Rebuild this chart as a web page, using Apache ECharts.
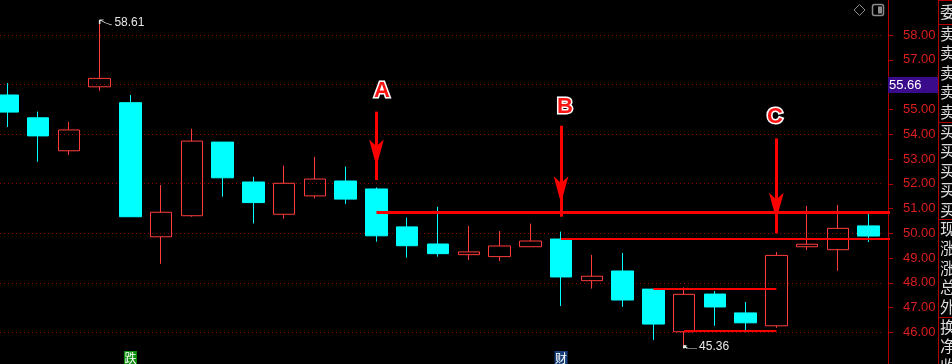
<!DOCTYPE html>
<html>
<head>
<meta charset="utf-8">
<script src="https://cdn.jsdelivr.net/npm/echarts@6/dist/echarts.min.js"></script>
<style>
html,body{margin:0;padding:0;background:#000;overflow:hidden;width:952px;height:364px;position:relative;}
#c{position:absolute;left:-8px;top:-15px;width:960px;height:398px;}
</style>
</head>
<body>
<div id="c"></div>
<script>
// ---------- data ----------
const categories = ['K01','K02','K03','K04','K05','K06','K07','K08','K09','K10',
  'K11','K12','K13','K14','K15','K16','K17','K18','K19','K20',
  'K21','K22','K23','K24','K25','K26','K27','K28','K29'];
const opens  = [55.58,54.66,53.33,55.91,55.27,49.86,50.71,53.68,52.07,50.77,
  51.51,52.11,51.79,50.26,49.57,49.14,49.06,49.46,49.77,48.09,
  48.48,47.75,46.03,47.55,46.79,46.27,49.46,49.34,50.30];
const closes = [54.89,53.93,54.17,56.25,50.67,50.85,53.72,52.24,51.24,52.02,
  52.19,51.38,49.90,49.50,49.18,49.25,49.49,49.69,48.24,48.27,
  47.31,46.34,47.54,47.03,46.39,49.11,49.56,50.20,49.89];
const lows   = [54.29,52.89,53.16,55.75,50.67,48.77,50.67,51.48,50.40,50.59,
  51.41,51.18,49.66,49.02,49.06,48.92,48.88,49.46,47.07,47.77,
  47.03,45.70,45.36,46.27,46.01,46.19,49.33,48.49,49.65];
const highs  = [56.06,54.91,54.50,58.61,55.58,51.95,54.22,53.68,52.28,52.73,
  53.09,52.69,51.85,50.63,51.07,50.30,50.09,50.39,50.07,49.13,
  49.21,47.75,47.82,47.67,47.23,49.25,51.10,51.14,50.79];
const yTickValues = [46,47,48,49,50,51,52,53,54,55,56,57,58];
const gridValues  = [46,48,50,52,54,56,58];
const highIdx = 3;
const lowIdx = 22;
const lastPrice = 55.66;
// horizontal support / resistance levels
const levelPrices = [50.85, 49.78, 47.77, 46.07];
const levelStart  = [12, 18, 21, 22];
const levelEnd    = [null, null, 25, 25];   // null = to the price axis
// arrows A / B / C
const arrowLabels = ['A','B','C'];
const arrowIdx    = [12, 18, 25];
const arrowFrom   = [54.91, 54.34, 53.83];
const arrowTo     = [52.15, 50.67, 50.00];
const letterPrice = [55.74, 55.10, 54.70];
// bottom signal tags
const signalIdx  = [4, 18];
const signalText = ['跌', '财'];
// right-hand quote panel (first characters)
const sideLabels = ['委','卖','卖','卖','卖','卖','买','买','买','买','买','现','涨','涨','总','外','换','净','收'];

// ---------- layout / style ----------
const OX = 8, OY = 15;              // container offset (chart px = page px + offset)
const AXIS_X = 888 + OX;
const levelWidths = [3, 2, 2, 2];
const letterDx = [5.5, 4, -1.5];
const signalColors = ['#0f8f0f', '#163f7a'];
const UP = '#ff3c3c', DOWN = '#00ffff', LINE_RED = '#ff0000';

const chart = echarts.init(document.getElementById('c'), null, {renderer:'canvas'});

const candleData = categories.map((c, i) => [opens[i], closes[i], lows[i], highs[i]]);

const lineItems = [];
levelPrices.forEach((p, i) => {
  lineItems.push([
    {coord:[levelStart[i], p], symbol:'none', lineStyle:{color:LINE_RED, width:levelWidths[i], type:'solid'}},
    levelEnd[i] == null
      ? {coord:[categories.length - 1, p], x: AXIS_X + 2, symbol:'none'}
      : {coord:[levelEnd[i], p], symbol:'none'}
  ]);
});
arrowIdx.forEach((x, i) => {
  lineItems.push([
    {coord:[x, arrowFrom[i]], symbol:'none', lineStyle:{color:LINE_RED, width:3, type:'solid'}},
    {coord:[x, arrowTo[i]], symbol:'arrow', symbolSize:[11, 27], symbolOffset:[0, 13.5], itemStyle:{color:LINE_RED}}
  ]);
});

const ptrPath = 'path://M0,0L4,0M0,0L0,4M0,0L6,3L12,5';
const lowPtrPath = 'path://M0,0L3,0M0,0L0,3M0,0L3,3L13,3';
const pointItems = [
  {coord:[highIdx, highs[highIdx]], symbol:ptrPath, symbolSize:[12,5], symbolOffset:[6,2.5], symbolKeepAspect:false,
   itemStyle:{color:'transparent', borderColor:'#e6e6e6', borderWidth:1},
   label:{show:true, position:'right', distance:2, formatter: highs[highIdx].toFixed(2), color:'#e6e6e6', fontSize:12, fontFamily:'Liberation Sans, Arial, sans-serif'}},
  {coord:[lowIdx, lows[lowIdx]], symbol:lowPtrPath, symbolSize:[13,3], symbolOffset:[6.5,-1.5], symbolKeepAspect:false,
   itemStyle:{color:'transparent', borderColor:'#e6e6e6', borderWidth:1},
   label:{show:true, position:'right', distance:1, formatter: lows[lowIdx].toFixed(2), color:'#e6e6e6', fontSize:12, fontFamily:'Liberation Sans, Arial, sans-serif'}}
];
arrowLabels.forEach((t, i) => {
  pointItems.push({coord:[arrowIdx[i], letterPrice[i]], symbol:'circle', symbolSize:1, itemStyle:{color:'transparent'},
    label:{show:true, position:'inside', formatter:t, offset:[letterDx[i],0], fontSize:22, fontWeight:'bold',
      color:'#ff1414', textBorderColor:'#ffffff', textBorderWidth:3, fontFamily:'Liberation Sans, Arial, sans-serif'}});
});
signalIdx.forEach((x, i) => {
  pointItems.push({coord:[x, lows[x]], y:358 + OY, symbol:'rect', symbolSize:[13,14], itemStyle:{color:signalColors[i]},
    label:{show:true, position:'inside', formatter:signalText[i], color:'#ffffff', fontSize:12, fontFamily:'Noto Sans CJK SC'}});
});

const option = {
  backgroundColor:'#000',
  animation:false,
  grid:{left:0, right:68, top:0.42, bottom:0.92},
  xAxis:{type:'category', data:categories, boundaryGap:true, show:false},
  yAxis:[
    {type:'value', position:'right', offset:4, min:44, max:60, interval:1,
     axisLine:{show:true, lineStyle:{color:'#b00000', width:1}},
     axisTick:{show:true, length:5, lineStyle:{color:'#b00000'}, customValues:yTickValues},
     axisLabel:{show:true, margin:15, color:'#dc1e1e', fontSize:13, fontFamily:'Liberation Sans, Arial, sans-serif',
       customValues:yTickValues,
       formatter: v => (v >= 46 && v <= 58) ? Number(v).toFixed(2) : ''},
     splitLine:{show:false}},
    {type:'value', position:'right', offset:0, min:44, max:60, interval:2,
     axisLine:{show:false}, axisTick:{show:false, customValues:gridValues}, axisLabel:{show:false},
     splitLine:{show:true, lineStyle:{color:'#9a0000', width:1, type:[1,3]}}}
  ],
  series:[{
    type:'candlestick',
    yAxisIndex:0,
    data:candleData,
    barWidth:22,
    itemStyle:{color:'transparent', color0:DOWN, borderColor:UP, borderColor0:DOWN, borderWidth:1},
    emphasis:{disabled:true},
    markLine:{silent:true, animation:false, symbol:['none','none'], label:{show:false}, emphasis:{disabled:true}, data:lineItems},
    markPoint:{silent:true, animation:false, emphasis:{disabled:true}, data:pointItems}
  }]
};
chart.setOption(option);

// ---------- side panel & last price tag ----------
const yLast = chart.convertToPixel({yAxisIndex:0}, lastPrice);
const g = [];
g.push({type:'rect', shape:{x:AXIS_X, y:yLast - 16, width:50, height:16}, style:{fill:'#3a0c8c'}, z:10});
g.push({type:'text', x:AXIS_X + 1, y:yLast - 8, style:{text:lastPrice.toFixed(2), fill:'#ffffff', font:'13px "Liberation Sans", Arial, sans-serif', verticalAlign:'middle', textVerticalAlign:'middle'}, z:11});
g.push({type:'line', shape:{x1:938.5 + OX, y1:0, x2:938.5 + OX, y2:364 + OY}, style:{stroke:'#b00000', lineWidth:1}, z:10});
const secStart = [0, 24, 122, 219, 317];
secStart.forEach(y => g.push({type:'line', shape:{x1:938 + OX, y1:y + 0.5 + OY, x2:952 + OX, y2:y + 0.5 + OY}, style:{stroke:'#b00000', lineWidth:1}, z:10}));
sideLabels.forEach((t, i) => {
  let yc;
  if (i === 0) yc = 12;
  else {
    const sec = Math.floor((i - 1) / 5), r = (i - 1) % 5;
    yc = secStart[sec + 1] + 9.75 + 19.5 * r;
  }
  g.push({type:'text', x:940 + OX, y:yc + OY, style:{text:t, fill:'#dcdcdc', font:'16px "Noto Sans CJK SC"', verticalAlign:'middle', textVerticalAlign:'middle'}, z:11});
});
// toolbar icons
g.push({type:'polygon', shape:{points:[[859.5+OX,4.5+OY],[865+OX,10+OY],[859.5+OX,15.5+OY],[854+OX,10+OY]]}, style:{fill:'none', stroke:'#8c8c8c', lineWidth:1}, z:10});
g.push({type:'rect', shape:{x:872.5+OX, y:4.5+OY, width:11, height:11, r:2}, style:{fill:'none', stroke:'#8c8c8c', lineWidth:1.5}, z:10});
g.push({type:'rect', shape:{x:878+OX, y:6.5+OY, width:4, height:7}, style:{fill:'#8c8c8c'}, z:10});
chart.setOption({graphic:g});
</script>
</body>
</html>
